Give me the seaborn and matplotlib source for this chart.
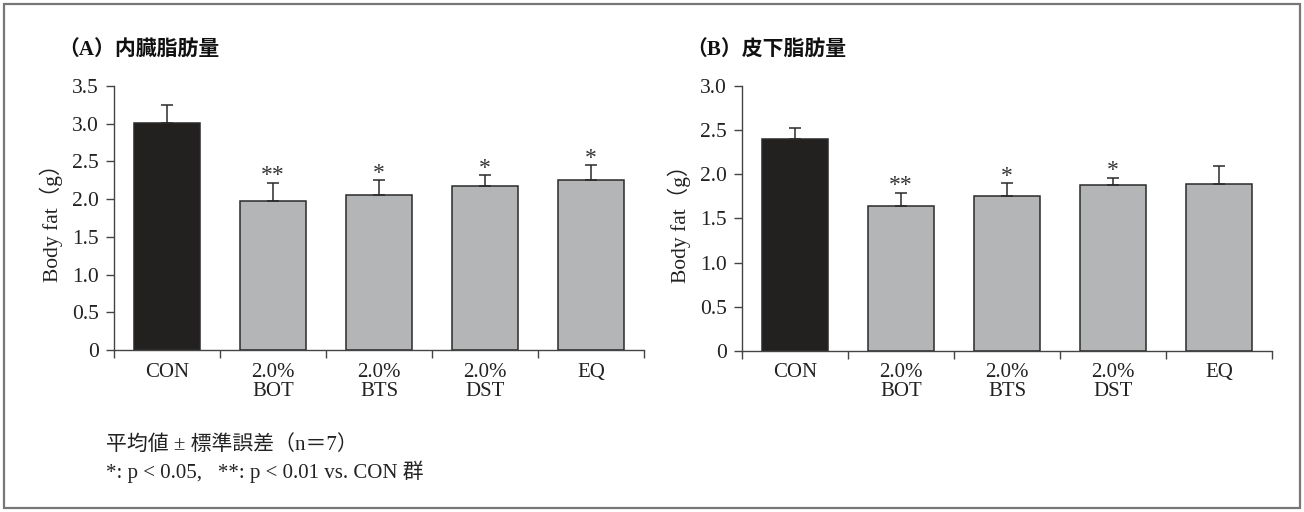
import matplotlib
matplotlib.use('Agg')
import matplotlib.pyplot as plt
import numpy as np
import pandas as pd
import seaborn as sns
from matplotlib.patches import Rectangle

groups = ['CON', '2.0%\nBOT', '2.0%\nBTS', '2.0%\nDST', 'EQ']

visceral_mean = [3.01, 1.97, 2.06, 2.17, 2.25]
visceral_sem = [0.24, 0.25, 0.19, 0.15, 0.20]
visceral_marks = ['', '**', '*', '*', '*']

subcut_mean = [2.40, 1.64, 1.76, 1.88, 1.89]
subcut_sem = [0.13, 0.15, 0.14, 0.08, 0.20]
subcut_marks = ['', '**', '*', '*', '']

bar_colors = ['#231f20', '#b4b5b7', '#b4b5b7', '#b4b5b7', '#b4b5b7']

sns.set_style('white')
plt.rcParams['font.family'] = ['Liberation Serif', 'Noto Sans CJK JP']
plt.rcParams['axes.unicode_minus'] = False

fig = plt.figure(figsize=(13.04, 5.12), dpi=100)


def draw_panel(ax, means, sems, marks, ymax, yticks):
    df = pd.DataFrame({'group': groups, 'mean': means})
    sns.barplot(data=df, x='group', y='mean', hue='group', palette=bar_colors,
                width=0.62, edgecolor='#2a2a2a', linewidth=1.1, legend=False,
                errorbar=None, ax=ax)
    x = np.arange(len(groups))
    ax.errorbar(x, means, yerr=[np.zeros(len(sems)), sems], fmt='none',
                ecolor='#2a2a2a', elinewidth=1.1, capsize=4.5, capthick=1.1)
    # significance marks just above the error caps
    for xi, m, s, mk in zip(x, means, sems, marks):
        if mk:
            ax.annotate(mk, (xi, m + s), xytext=(0, 1), textcoords='offset points',
                        ha='center', va='baseline', fontsize=17, color='#333333')
    ax.set_xlim(-0.5, len(groups) - 0.5)
    ax.set_ylim(0, ymax)
    ax.set_yticks(yticks)
    ax.set_yticklabels(['0' if t == 0 else f'{t:.1f}' for t in yticks])
    ax.set_xticks(x)
    ax.set_xticklabels(groups, linespacing=1.0)
    ax.set_xticks(np.arange(-0.5, len(groups)), minor=True)
    ax.tick_params(axis='x', which='major', length=0, pad=9, labelsize=15,
                   labelcolor='#222222')
    ax.tick_params(axis='x', which='minor', length=6, width=1, direction='out',
                   color='#444444', bottom=True)
    ax.tick_params(axis='y', length=6, width=1, direction='out', left=True,
                   labelsize=15.5, pad=5, color='#444444', labelcolor='#222222')
    for side in ['top', 'right']:
        ax.spines[side].set_visible(False)
    for side in ['left', 'bottom']:
        ax.spines[side].set_color('#444444')
        ax.spines[side].set_linewidth(1.0)
    ax.set_xlabel('')
    ax.set_ylabel('Body fat（g）', fontsize=15.5, color='#222222', labelpad=6)


ax_a = fig.add_axes([0.0874, 0.3164, 0.4064, 0.5156])
draw_panel(ax_a, visceral_mean, visceral_sem, visceral_marks, 3.5,
           [0, 0.5, 1.0, 1.5, 2.0, 2.5, 3.0, 3.5])

ax_b = fig.add_axes([0.569, 0.3145, 0.4064, 0.5175])
draw_panel(ax_b, subcut_mean, subcut_sem, subcut_marks, 3.0,
           [0, 0.5, 1.0, 1.5, 2.0, 2.5, 3.0])

fig.text(58 / 1304, 1 - 51 / 512, '（A）内臓脂肪量', fontsize=15, fontweight='bold',
         ha='left', va='center', color='#111111')
fig.text(686 / 1304, 1 - 51 / 512, '（B）皮下脂肪量', fontsize=15, fontweight='bold',
         ha='left', va='center', color='#111111')

fig.text(106 / 1304, 1 - 445 / 512, '平均値 ± 標準誤差（n＝7）', fontsize=15,
         ha='left', va='center', color='#222222')
fig.text(106 / 1304, 1 - 472 / 512, '*: p < 0.05,   **: p < 0.01 vs. CON 群',
         fontsize=15, ha='left', va='center', color='#222222')

fig.patches.append(Rectangle((4 / 1304, 4 / 512), 1296 / 1304, 504 / 512,
                             transform=fig.transFigure, fill=False,
                             edgecolor='#777777', linewidth=1.6))

fig.savefig('out.png', dpi=100)
